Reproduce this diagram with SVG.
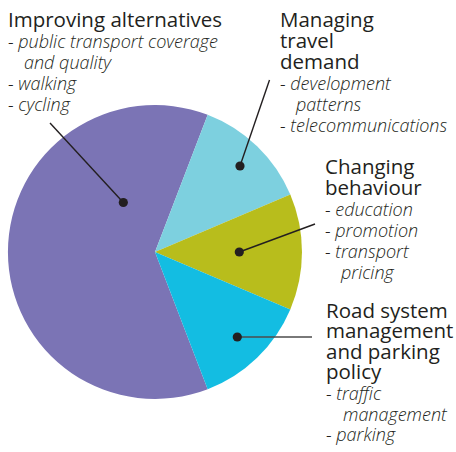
<svg xmlns="http://www.w3.org/2000/svg" width="456" height="452" viewBox="0 0 456 452">
<style>
.t{font-family:"Open Sans","Noto Sans",sans-serif;font-size:20.5px;fill:#231f20}
.i{font-family:"Open Sans","Noto Sans",sans-serif;font-size:18px;font-style:italic;font-weight:300;fill:#231f20}
.ld{stroke:#231f20;stroke-width:1.4;fill:none}
.dot{fill:#231f20}
</style>
<rect width="456" height="452" fill="#fff"/>
<g id="pie">
<path id="slice-improving" d="M155,252 L207.7,389.2 A147,147 0 1 1 207.7,114.8 Z" fill="#7b74b5"/>
<path id="slice-demand" d="M155,252 L207.7,114.8 A147,147 0 0 1 290.3,194.6 Z" fill="#7dd0df"/>
<path id="slice-behaviour" d="M155,252 L290.3,194.6 A147,147 0 0 1 290.3,309.4 Z" fill="#b8bd1c"/>
<path id="slice-road" d="M155,252 L290.3,309.4 A147,147 0 0 1 207.7,389.2 Z" fill="#13bde2"/>
</g>
<g id="connectors">
<line class="ld" x1="123.3" y1="202.5" x2="50" y2="123"/>
<line class="ld" x1="240" y1="166" x2="269.5" y2="80"/>
<line class="ld" x1="239.3" y1="252" x2="315" y2="224"/>
<line class="ld" x1="237.3" y1="337" x2="312" y2="337" style="stroke:#4d4d4d"/>
<circle class="dot" cx="123.3" cy="202.5" r="4.6"/>
<circle class="dot" cx="240" cy="166" r="4.6"/>
<circle class="dot" cx="239.3" cy="252" r="4.6"/>
<circle class="dot" cx="237.3" cy="337" r="4.6"/>
</g>
<g id="label-improving">
<text class="t" x="8" y="27">Improving alternatives</text>
<text class="i" x="8" y="48">- public transport coverage</text>
<text class="i" x="24" y="69">and quality</text>
<text class="i" x="8" y="90">- walking</text>
<text class="i" x="8" y="111">- cycling</text>
</g>
<g id="label-demand">
<text class="t" x="280" y="27">Managing</text>
<text class="t" x="280" y="48">travel</text>
<text class="t" x="280" y="69">demand</text>
<text class="i" x="280" y="90">- development</text>
<text class="i" x="296" y="111">patterns</text>
<text class="i" x="280" y="132">- telecommunications</text>
</g>
<g id="label-behaviour">
<text class="t" x="325" y="174">Changing</text>
<text class="t" x="325" y="195">behaviour</text>
<text class="i" x="325" y="216">- education</text>
<text class="i" x="325" y="237">- promotion</text>
<text class="i" x="325" y="258">- transport</text>
<text class="i" x="341" y="279">pricing</text>
</g>
<g id="label-road">
<text class="t" x="326" y="317.5">Road system</text>
<text class="t" x="326" y="338">management</text>
<text class="t" x="326" y="358.7">and parking</text>
<text class="t" x="326" y="379.3">policy</text>
<text class="i" x="326" y="400">- traffic</text>
<text class="i" x="343" y="420.5">management</text>
<text class="i" x="326" y="441">- parking</text>
</g>
</svg>
